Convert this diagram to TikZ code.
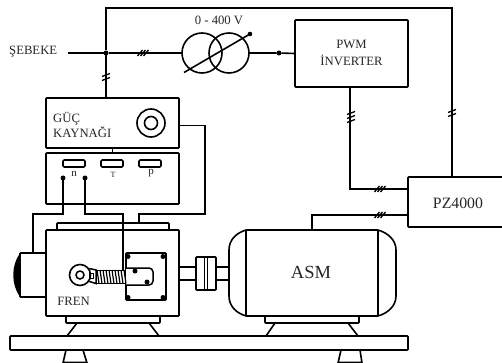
\documentclass[tikz,border=0pt]{standalone}
\usepackage{fontspec}
\setmainfont{Liberation Serif}
\newcommand{\hticks}[2]{\foreach \d in {-3,0,3}{\draw[tick] (#1+\d-2.5,#2+3) -- (#1+\d+2.5,#2-3);}}
\newcommand{\vticks}[3]{\foreach \d in {#3}{\draw[tick] (#1-4,#2+\d+1.5) -- (#1+4,#2+\d-1.5);}}
\tikzset{
  wire/.style={line width=1.6pt,line join=miter,draw=black},
  thin wire/.style={line width=1.2pt,draw=black},
  tick/.style={line width=1.3pt,draw=black},
  box/.style={rectangle,draw=black,line width=1.6pt,rounded corners=0.8pt,inner sep=0pt,outer sep=0pt},
  lbl/.style={font=\fontsize{12.7}{14}\selectfont,text=black!85,inner sep=0pt,align=center},
  dot/.style={circle,fill=black,inner sep=0pt,minimum size=5pt,outer sep=0pt},
  sdot/.style={circle,fill=black,inner sep=0pt,minimum size=4.6pt,outer sep=0pt},
}
\begin{document}
\begin{tikzpicture}[x=1pt,y=-1pt]
\useasboundingbox (0,0) rectangle (502,363);
\clip (0,0) rectangle (502,363);
\fill[white] (0,0) rectangle (502,363);

% Boxes
\node[box,minimum width=133pt,minimum height=50pt] (guc) at (112.5,123) {};
\node[box,minimum width=133pt,minimum height=51pt] (panel) at (112.5,178.5) {};
\node[box,minimum width=113pt,minimum height=67pt] (pwm) at (351.5,53.5) {};
\node[box,minimum width=110pt,minimum height=50pt] (pz) at (463,202) {};
\node[box,minimum width=133pt,minimum height=86pt] (fren) at (112.5,273) {};
\node[box,minimum width=132pt,minimum height=86pt] (asm) at (312,273) {};
\node[box,minimum width=26pt,minimum height=44pt] (cool) at (33,275) {};
\node[box,minimum width=112pt,minimum height=7pt] (topplate) at (113,226.5) {};
\node[box,minimum width=94pt,minimum height=7pt] (frenfoot) at (113,319.5) {};
\node[box,minimum width=94pt,minimum height=7pt] (asmfoot) at (312,319.5) {};
\node[box,minimum width=398pt,minimum height=14pt] (base) at (209,343) {};

% Texts
\node[lbl,anchor=west] (seb) at (9,52) {ŞEBEKE};
\node[lbl] (range) at (219,20) {0 - 400 V};
\node[lbl,align=left,anchor=west] (guct) at (53,125) {GÜÇ\\[1.5pt]KAYNAĞI};
\node[lbl] (pwmt) at (351.5,53) {PWM\\[3.5pt]İNVERTER};
\node[lbl,font=\fontsize{15.8}{18}\selectfont] (pzt) at (458,203) {PZ4000};
\node[lbl,font=\fontsize{18.5}{20}\selectfont] (asmt) at (311,272) {ASM};
\node[lbl] (frent) at (73.5,301.5) {FREN};
\node[lbl,font=\fontsize{11}{12}\selectfont] (nt) at (74,173.5) {n};
\node[lbl,font=\fontsize{8}{9}\selectfont] (tt) at (113,175) {T};
\node[lbl,font=\fontsize{11}{12}\selectfont] (pt) at (151,173.5) {p};

% Transformer
\node[circle,draw=black,line width=1.6pt,minimum size=40pt,inner sep=0pt,outer sep=0pt] (t1) at (202,53) {};
\node[circle,draw=black,line width=1.6pt,minimum size=40pt,inner sep=0pt,outer sep=0pt] (t2) at (229,53) {};
\coordinate (tra) at (184,72.5);
\coordinate (trb) at (250,34);
\draw[wire] (tra) -- (trb);
\node[sdot] (trdot) at (trb) {};

% Main wires
\coordinate (sebend) at (68,53);
\node[dot] (j1) at (106,53) {};
\node[dot] (j2) at (279,53) {};
\coordinate (topl) at (106,8);
\coordinate (topr) at (452,8);
\draw[wire] (sebend) -- (j1) -- (t1.west);
\draw[wire] (t2.east) -- (j2) -- (pwm.west);
\draw[wire] (guc.north -| j1) -- (j1) -- (topl) -- (topr) -- (topr |- pz.north);
\coordinate (pwd) at (350,189);
\draw[wire] (pwd |- pwm.south) -- (pwd) -- (pwd -| pz.west);
\coordinate (asu) at (312,215);
\draw[wire] (asu |- asm.north) -- (asu) -- (asu -| pz.west);
\hticks{143}{53}
\hticks{380}{189}
\hticks{380}{215}
\vticks{106}{77}{-2,2}
\vticks{452}{113}{-2,2}
\vticks{351}{117}{-4,0,4}

% Power supply
\node[circle,draw=black,line width=1.6pt,minimum size=28pt,inner sep=0pt] (k1) at (151,123) {};
\node[circle,draw=black,line width=1.6pt,minimum size=13pt,inner sep=0pt] (k2) at (151,123) {};
\draw[wire] (guc.south) -- (panel.north);
\coordinate (r1) at (205,125.5);
\coordinate (r2) at (205,214);
\coordinate (r3) at (139,214);
\draw[wire] (r1 -| guc.east) -- (r1) -- (r2) -- (r3) -- (r3 |- topplate.north);

% Panel
\node[box,minimum width=22pt,minimum height=7pt,rounded corners=1.2pt] (b1) at (74,163.5) {};
\node[box,minimum width=22pt,minimum height=7pt,rounded corners=1.2pt] (b2) at (112,163.5) {};
\node[box,minimum width=22pt,minimum height=7pt,rounded corners=1.2pt] (b3) at (150,163.5) {};
\node[dot] (pn) at (63,178) {};
\node[dot] (pm) at (85,178) {};
\coordinate (w1) at (63,214);
\coordinate (w2) at (33,214);
\draw[wire] (pn) -- (w1) -- (w2) -- (cool.north);
\coordinate (w3) at (85,214);
\coordinate (w4) at (123,214);
\coordinate (w5) at (123,270);
\draw[wire] (pm) -- (w3) -- (w4) -- (w5);

% Fan bulge
\fill[black] (20,253) .. controls (16,259) and (13,267) .. (13.5,275) .. controls (13,283) and (16,291) .. (20,297) -- cycle;

% Brake mechanism
\node[box,minimum width=40pt,minimum height=47pt] (plate) at (146,276.5) {};
\foreach \p/\n in {128/a,163/b}{
  \node[dot] (u\n) at (\p,256.5) {};
  \node[dot] (l\n) at (\p,297.5) {};
}
\draw[line width=1.5pt,fill=white,rounded corners=4pt] (126,268) -- (153,268) -- (153,285) -- (126,285);
\node[dot] (s1) at (135,271) {};
\node[dot] (s2) at (147,282) {};
\draw[line width=1pt] (96,270) -- (126,270) (96,283.5) -- (126,283.5);
\foreach \x in {97,100,...,124}{\draw[line width=1.2pt] (\x,270) -- (\x+2,283.5);}
\node[circle,draw=black,line width=1.6pt,minimum size=21pt,inner sep=0pt,fill=white] (eye) at (80,275) {};
\node[circle,draw=black,line width=1.5pt,minimum size=8pt,inner sep=0pt] (eyei) at (80,275) {};
\draw[line width=1.5pt] (eye.35) -- (96,270) -- (96,283.5) -- (eye.-35);
\node[draw=black,line width=1pt,minimum size=4.5pt,inner sep=0pt] (sq) at (91.5,276) {};

% Shaft and coupling
\node[box,minimum width=20pt,minimum height=33pt] (coup) at (206,273.5) {};
\draw[thin wire] (204.7,257) -- (204.7,290) (207.3,257) -- (207.3,290);
\draw[wire] (179,267) -- (196,267) (216,267) -- (229,267);
\draw[wire] (179,280) -- (196,280) (216,280) -- (229,280);

% ASM bells
\draw[wire] (asm.north west) .. controls (236,233) and (229,240) .. (229,250) -- (229,296) .. controls (229,306) and (236,313) .. (asm.south west);
\draw[wire] (asm.north east) .. controls (388,233) and (396,240) .. (396,250) -- (396,296) .. controls (396,306) and (388,313) .. (asm.south east);

% Legs
\draw[wire] (77,323) -- (67,336) (149,323) -- (159,336);
\draw[wire] (275,323) -- (266,336) (348,323) -- (358,336);
\draw[wire] (63,363) -- (66,350) (87,363) -- (83,350) (63,362.5) -- (87,362.5);
\draw[wire] (338,363) -- (341,350) (362,363) -- (360,350) (338,362.5) -- (362,362.5);
\end{tikzpicture}
\end{document}
